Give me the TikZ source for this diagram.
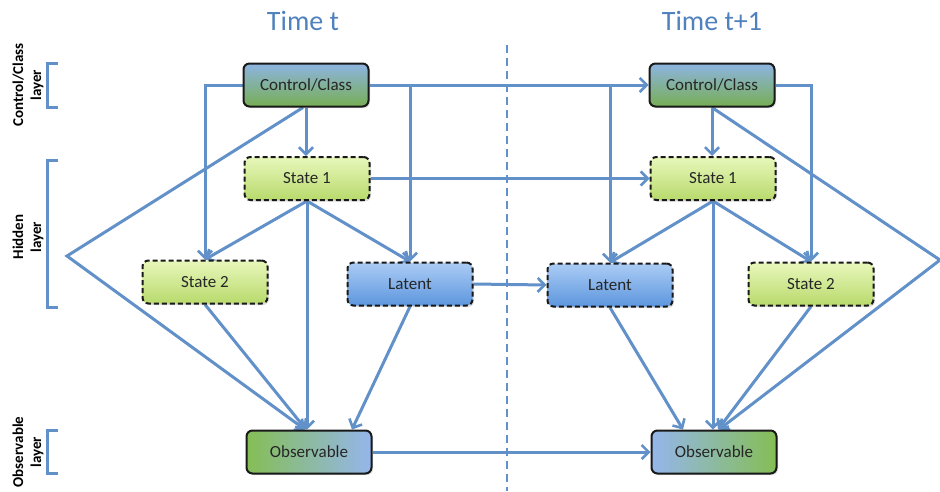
\documentclass[tikz,border=0pt]{standalone}
\usepackage{fontspec}
\setmainfont{Carlito}
\usetikzlibrary{arrows.meta,shadows}
\pgfdeclarelayer{background}
\pgfsetlayers{background,main}
\definecolor{ln}{RGB}{97,145,200}
\definecolor{ttl}{RGB}{79,129,189}
\definecolor{ctop}{RGB}{141,180,226}
\definecolor{cbot}{RGB}{119,174,84}
\definecolor{stop}{RGB}{232,247,187}
\definecolor{sbot}{RGB}{184,218,108}
\definecolor{ltop}{RGB}{171,204,245}
\definecolor{lbot}{RGB}{93,150,222}
\definecolor{ogreen}{RGB}{133,190,85}
\definecolor{oblue}{RGB}{148,182,236}
\tikzset{
  box/.style={rounded corners=6pt, minimum width=125pt, minimum height=43pt,
    line width=2pt, draw=black!90, text=black!85,
    font=\fontsize{17}{20}\selectfont,
    drop shadow={opacity=0.25, shadow xshift=1.5pt, shadow yshift=-1.5pt}},
  ctlbox/.style={box, top color=ctop, bottom color=cbot},
  stbox/.style={box, top color=stop, bottom color=sbot, dash pattern=on 5pt off 3pt},
  latbox/.style={box, top color=ltop, bottom color=lbot, dash pattern=on 5pt off 3pt},
  obsA/.style={box, left color=ogreen, right color=oblue},
  obsB/.style={box, left color=oblue, right color=ogreen},
  arr/.style={draw=ln, line width=3pt, line join=miter,
    -{Straight Barb[length=7pt,width=14pt,line width=2.6pt]}},
  plain/.style={draw=ln, line width=3pt},
  divider/.style={draw=ln, line width=2.6pt, dash pattern=on 8pt off 5pt},
  ttlnode/.style={text=ttl, font=\fontsize{28}{32}\selectfont},
  side/.style={rotate=90, align=center, font=\bfseries\fontsize{15}{18}\selectfont},
}
\begin{document}
\begin{tikzpicture}[x=1pt,y=-1pt]
\useasboundingbox (0,0) rectangle (940,491);

% titles
\node[ttlnode] (tt1) at (303,21) {Time t};
\node[ttlnode] (tt2) at (712,21) {Time t+1};

% side labels
\node[side] (lab1) at (28,85) {Control/Class\\layer};
\node[side] (lab2) at (28,237) {Hidden\\layer};
\node[side] (lab3) at (28,452) {Observable\\layer};

% brackets
\draw[plain] (58,63) -- (47,63) -- (47,107) -- (58,107);
\draw[plain] (58,160) -- (47,160) -- (47,307) -- (58,307);
\draw[plain] (58,430) -- (47,430) -- (47,473) -- (58,473);

% nodes time t
\node[ctlbox] (c1) at (306,85) {Control/Class};
\node[stbox] (s1) at (307,178.5) {State 1};
\node[stbox] (s21) at (205,282) {State 2};
\node[latbox] (l1) at (410,284) {Latent};
\node[obsA] (o1) at (309,452) {Observable};

% nodes time t+1
\node[ctlbox] (c2) at (712,85) {Control/Class};
\node[stbox] (s1b) at (713,178.5) {State 1};
\node[latbox] (l2) at (610,285) {Latent};
\node[stbox] (s2b) at (811,284) {State 2};
\node[obsB] (o2) at (714,452) {Observable};

\coordinate (lp) at (67,256);
\coordinate (rp) at (940,260);
\coordinate (dtop) at (507,45);
\coordinate (dbot) at (507,491);

\begin{pgfonlayer}{background}
\draw[divider] (dtop) -- (dbot);

% time t
\draw[arr] (c1.south) -- (c1.south |- s1.north);
\draw[arr] (c1.west) -| (s21.north);
\draw[arr] (c1.east) -- (c2.west);
\draw[arr] (l1.north |- c1.east) -- (l1.north);
\draw[arr] (l2.north |- c1.east) -- (l2.north);
\draw[arr] ([xshift=-3pt]c1.south) -- (lp) -- ([xshift=-4pt]o1.north);
\draw[arr] (s1.south) -- (s21.north);
\draw[arr] (s1.south) -- (l1.north);
\draw[arr] (s1.south) -- ([xshift=-2pt]o1.north);
\draw[arr] (s1.east) -- (s1b.west);
\draw[arr] (s21.south) -- ([xshift=-3pt]o1.north);
\draw[arr] (l1.south) -- ([xshift=43pt]o1.north);
\draw[arr] (l1.east) -- (l2.west);
\draw[arr] (o1.east) -- (o2.west);

% time t+1
\draw[arr] (c2.south) -- (c2.south |- s1b.north);
\draw[arr] (c2.east) -| (s2b.north);
\draw[arr] (c2.south) -- (rp) -- ([xshift=5pt]o2.north);
\draw[arr] (s1b.south) -- (l2.north);
\draw[arr] (s1b.south) -- (s2b.north);
\draw[arr] (s1b.south) -- ([xshift=-1pt]o2.north);
\draw[arr] (l2.south) -- ([xshift=-31pt]o2.north);
\draw[arr] (s2b.south) -- ([xshift=4pt]o2.north);
\end{pgfonlayer}
\end{tikzpicture}
\end{document}
